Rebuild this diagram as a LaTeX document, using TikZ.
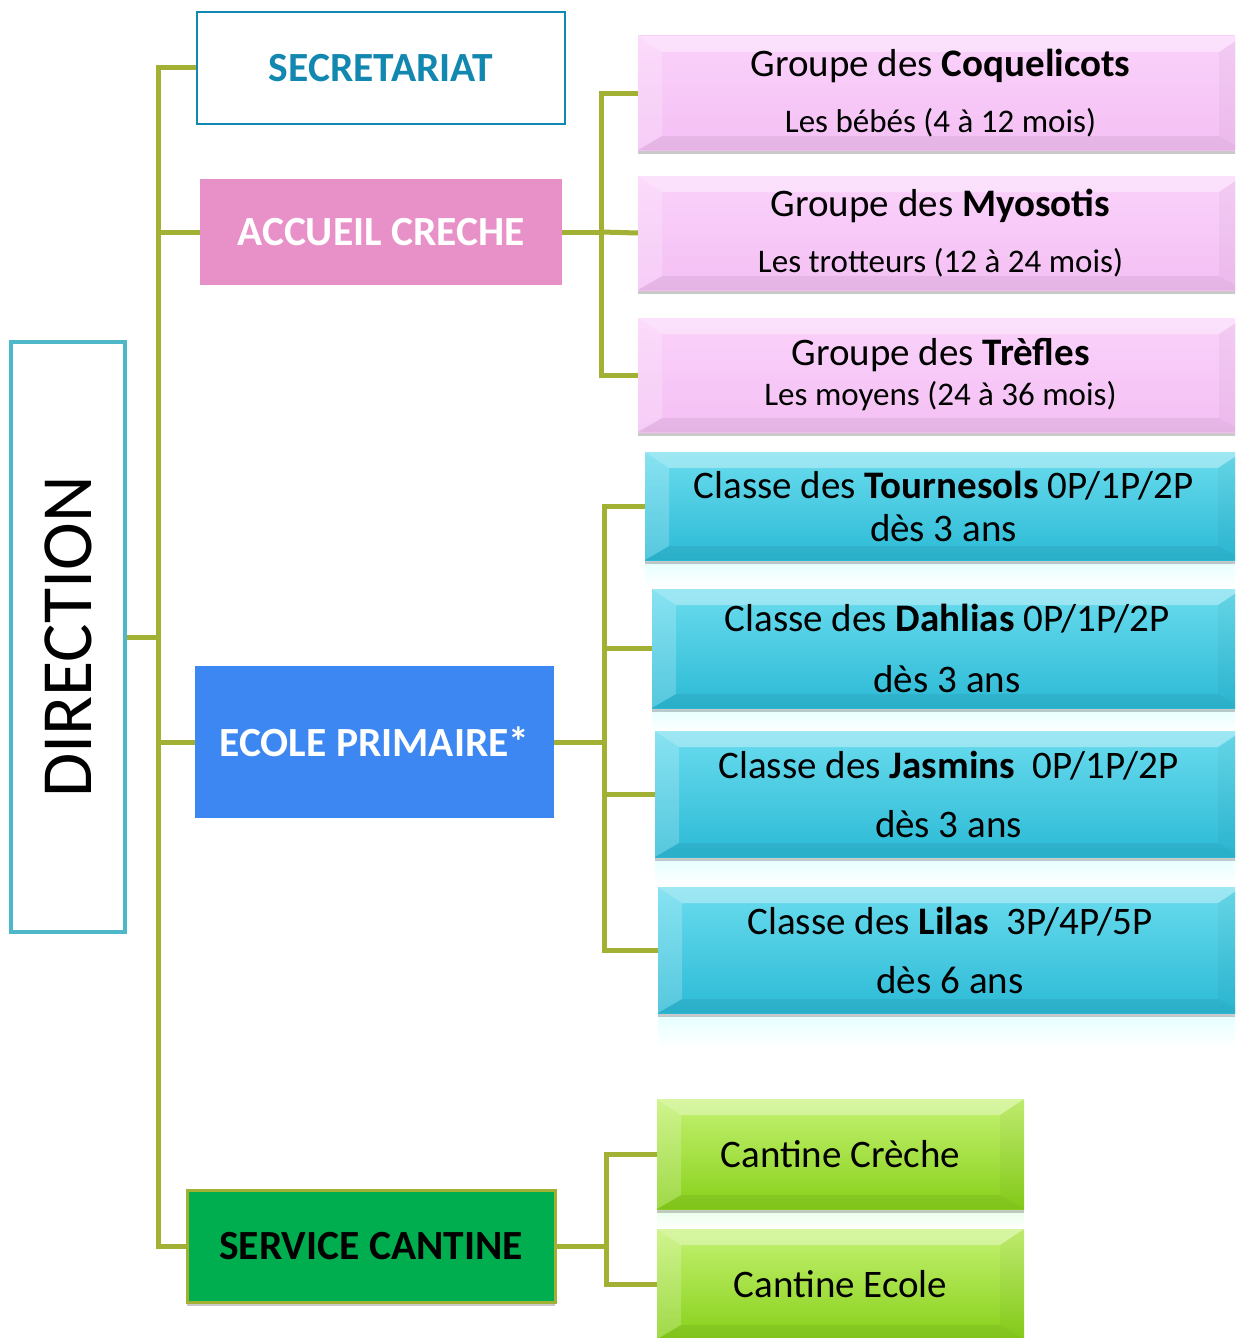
\documentclass[tikz,border=0pt]{standalone}
\usepackage{fontspec}
\setmainfont{Carlito}
\usetikzlibrary{shadows}

\definecolor{branche}{HTML}{A2B034}
\definecolor{secbleu}{HTML}{1287B0}
\definecolor{rose}{HTML}{E891C8}
\definecolor{ecolebleu}{HTML}{3D87F2}
\definecolor{cantvert}{HTML}{00AE4F}
\definecolor{dirbord}{HTML}{4FB8C8}
\definecolor{mauvehaut}{HTML}{FAD2FA}
\definecolor{mauvebas}{HTML}{F4C0F4}
\definecolor{cyanhaut}{HTML}{6ADCEE}
\definecolor{cyanbas}{HTML}{2CBAD6}
\definecolor{verthaut}{HTML}{C4F272}
\definecolor{vertbas}{HTML}{88D01A}

\tikzset{
  lien/.style={draw=branche, line width=5pt},
  biseau/.style={path picture={
      \fill[white,opacity=.35] (path picture bounding box.north west) -- (path picture bounding box.north east)
        -- ([xshift=-24pt,yshift=-16pt]path picture bounding box.north east) -- ([xshift=24pt,yshift=-16pt]path picture bounding box.north west) -- cycle;
      \fill[white,opacity=.2] (path picture bounding box.north west) -- ([xshift=24pt,yshift=-16pt]path picture bounding box.north west)
        -- ([xshift=24pt,yshift=14pt]path picture bounding box.south west) -- (path picture bounding box.south west) -- cycle;
      \fill[black,opacity=.03] (path picture bounding box.north east) -- ([xshift=-24pt,yshift=-16pt]path picture bounding box.north east)
        -- ([xshift=-24pt,yshift=14pt]path picture bounding box.south east) -- (path picture bounding box.south east) -- cycle;
      \fill[black,opacity=.06] (path picture bounding box.south west) -- ([xshift=24pt,yshift=14pt]path picture bounding box.south west)
        -- ([xshift=-24pt,yshift=14pt]path picture bounding box.south east) -- (path picture bounding box.south east) -- cycle;
    }},
  ombre/.style={drop shadow={shadow xshift=0pt, shadow yshift=-4pt, opacity=.35, fill=black!60}},
  chef/.style={draw=dirbord, line width=4pt, fill=white, minimum width=114pt, minimum height=590pt,
    inner sep=0pt, font=\fontsize{72}{80}\selectfont},
  service/.style={minimum width=#1, inner sep=0pt, align=center, font=\bfseries\fontsize{41.5}{48}\selectfont},
  groupe/.style={biseau, ombre, top color=mauvehaut, bottom color=mauvebas, minimum width=605pt, minimum height=114pt,
    inner sep=0pt, align=center, font=\fontsize{39}{47}\selectfont},
  classe/.style={biseau, ombre, top color=cyanhaut, bottom color=cyanbas, minimum width=#1, inner sep=0pt,
    align=center, font=\fontsize{39}{47}\selectfont},
  cantine/.style={biseau, ombre, top color=verthaut, bottom color=vertbas, minimum width=367pt, minimum height=110pt,
    inner sep=0pt, font=\fontsize{39}{46}\selectfont},
  reflet/.style={top color=cyan!10, bottom color=white}
}

\begin{document}
\begin{tikzpicture}[x=1pt,y=-1pt]
  \clip (0,0) rectangle (1235,1338);
  \fill[white] (0,0) rectangle (1235,1338);

  % direction et services
  \node (dir) [chef] at (68,637) {\rotatebox{90}{DIRECTION}};
  \node (sec) [service=368pt, minimum height=112pt, draw=secbleu, line width=2pt, fill=white, text=secbleu] at (381,68) {SECRETARIAT};
  \node (acc) [service=362pt, minimum height=106pt, fill=rose, text=white] at (381,232) {ACCUEIL CRECHE};
  \node (eco) [service=359pt, minimum height=152pt, fill=ecolebleu, text=white] at (374.5,742) {ECOLE PRIMAIRE*};
  \node (ser) [service=368pt, minimum height=112pt, fill=cantvert, draw=branche, line width=3pt, ombre] at (371,1246) {SERVICE CANTINE};

  % groupes de la creche
  \node (g1) [groupe] at (940.5,93) {Groupe des \textbf{Coquelicots}\\[9pt]{\fontsize{33}{47}\selectfont Les bébés (4 à 12 mois)}};
  \node (g2) [groupe] at (940.5,233) {Groupe des \textbf{Myosotis}\\[9pt]{\fontsize{33}{47}\selectfont Les trotteurs (12 à 24 mois)}};
  \node (g3) [groupe] at (940.5,375) {Groupe des \textbf{Trèfles}\\[-7pt]{\fontsize{33}{47}\selectfont Les moyens (24 à 36 mois)}};

  % classes de l'ecole
  \fill[reflet] (645,562) rectangle (1235,586);
  \fill[reflet] (652,710) rectangle (1235,731);
  \fill[reflet] (655,860) rectangle (1235,884);
  \fill[reflet] (658,1016) rectangle (1235,1048);
  \node (c1) [classe=597pt, minimum height=108pt] at (943.5,506) {Classe des \textbf{Tournesols} 0P/1P/2P\\[-4pt]dès 3 ans};
  \node (c2) [classe=590pt, minimum height=119pt] at (947,648.5) {Classe des \textbf{Dahlias} 0P/1P/2P\\[14pt]dès 3 ans};
  \node (c3) [classe=587pt, minimum height=126pt] at (948.5,794) {Classe des \textbf{Jasmins}~ 0P/1P/2P\\[12pt]dès 3 ans};
  \node (c4) [classe=584pt, minimum height=126pt] at (950,950) {Classe des \textbf{Lilas}~ 3P/4P/5P\\[12pt]dès 6 ans};

  % cantines
  \fill[top color=green!8, bottom color=white] (657,1211) rectangle (1024,1229);
  \node (k1) [cantine] at (840.5,1154) {Cantine Crèche};
  \node (k2) [cantine] at (840.5,1284) {Cantine Ecole};

  % liens
  \coordinate (tronc) at (158,637);
  \draw[lien] (dir.east) -- (tronc) |- (sec.west);
  \draw[lien] (tronc) |- (acc.west);
  \draw[lien] (tronc) |- (eco.west);
  \draw[lien] (tronc) |- (ser.west);

  \coordinate (tacc) at (601,232);
  \draw[lien] (acc.east) -- (tacc) |- (g1.west);
  \draw[lien] (tacc) -- (g2.west);
  \draw[lien] (tacc) |- (g3.west);

  \coordinate (teco) at (604,742);
  \draw[lien] (eco.east) -- (teco) |- (c1.west);
  \draw[lien] (teco) |- (c2.west);
  \draw[lien] (teco) |- (c3.west);
  \draw[lien] (teco) |- (c4.west);

  \coordinate (tser) at (606,1246);
  \draw[lien] (ser.east) -- (tser) |- (k1.west);
  \draw[lien] (tser) |- (k2.west);
\end{tikzpicture}
\end{document}
